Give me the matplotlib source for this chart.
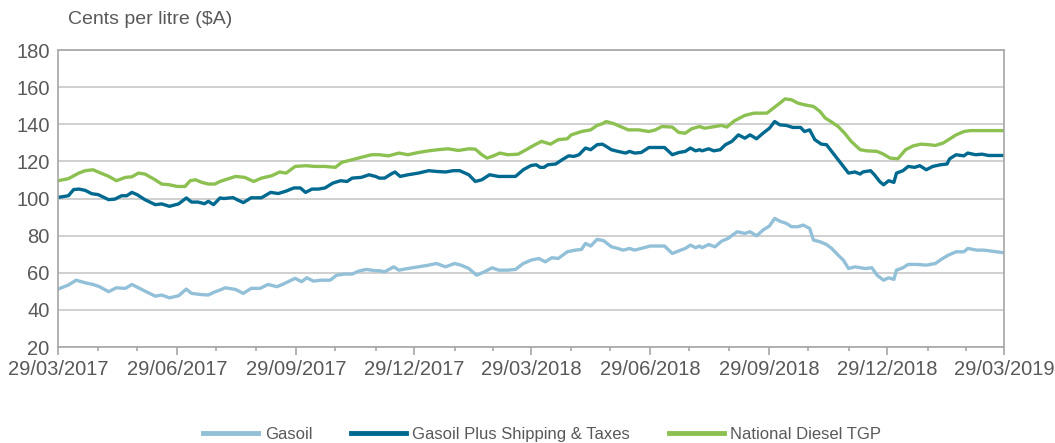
import pandas as pd
import matplotlib
matplotlib.use('Agg')
import matplotlib.pyplot as plt
import matplotlib.dates as mdates

# 数据：距 2017-03-29 的天数 与 对应价格（澳分/升）
start_date = '2017-03-29'

gasoil_days = [0, 8, 14, 21, 27, 32, 39, 45, 52, 57, 62, 68, 75, 80, 86, 93, 99, 103, 110, 116, 120, 125,
               129, 137, 143, 149, 156, 162, 169, 175, 183, 188, 192, 197, 203, 210, 215, 221, 227, 232, 238, 245, 248,
               252, 259, 263, 270, 278, 286, 292, 299, 306, 311, 317, 323, 329, 335, 340, 347, 353, 359, 365, 371,
               376, 381, 386, 393, 399, 404, 407, 411, 416, 421, 427, 432, 436, 441, 445, 450, 457, 463, 468, 474,
               479, 484, 488, 492, 495,
               497, 502, 507, 512, 517, 524, 530, 534, 539, 544, 549, 553, 557, 562, 566, 571, 575, 580, 583, 588,
               593, 597, 602, 606, 610, 615, 619,
               623, 628, 632, 637, 641, 645, 647, 652, 656, 663, 670, 677, 682, 687, 693, 699, 702, 709, 714, 719,
               724, 730]
gasoil = [51.2, 53.4, 56, 54.6, 53.7, 52.5, 49.8, 51.9, 51.6, 53.7, 51.9, 49.8, 47.4, 48, 46.5, 47.6, 51.2, 48.9,
          48.3, 48, 49.4, 50.7,
          51.9, 51, 48.9, 51.6, 51.6, 53.7, 52.5, 54.3, 57, 55.2, 57.3, 55.5, 56, 56, 58.7, 59.3, 59.3, 60.9, 61.8,
          61.1, 61.1,
          60.5, 63.2, 61.4, 62.3, 63.2, 64.1, 65, 63.2, 65, 64.1, 62.3, 58.7, 60.5, 62.7, 61.4, 61.4, 61.8, 65,
          66.8, 67.7,
          65.9, 68.1, 67.7, 71.3, 72.2, 72.6, 75.8, 74.4, 78, 77.3, 74, 73.1, 72.2, 73.1, 72.2, 73.1, 74.4, 74.4,
          74.4, 70.4, 71.8, 73.1, 74.9, 73.5, 74.4,
          73.5, 75.2, 74, 77, 78.5, 82.1, 81.2, 82.1, 79.9, 83, 85.2, 89.3, 87.8, 86.6, 84.8, 84.8, 85.7, 83.9,
          77.6, 76.7, 75.2, 73.1, 69.5, 66.8, 62.3, 63.2, 62.7,
          62.3, 62.7, 58.7, 56, 57.3, 56.4, 61.4, 62.7, 64.5, 64.5, 64.1, 65, 67.4, 69.5, 71.3, 71.3, 73.1, 72.2,
          72.2, 71.8, 71.3, 70.8]

shipping_days = [0, 8, 12, 16, 21, 26, 31, 39, 44, 49, 53, 57, 61, 67, 75, 80, 86, 93, 99, 103, 108, 113, 116, 120, 125,
                 128, 135, 139, 143, 149, 157, 164, 170, 176, 182, 187, 191, 196, 201, 206, 212, 218, 223, 227, 234,
                 240, 245, 248,
                 252, 257, 260, 264, 270, 278, 286, 292, 299, 305, 310, 317, 322, 327, 333, 340, 347, 353, 359, 365,
                 369, 372,
                 375, 378, 384, 389, 394, 398, 402, 407, 411, 416, 420, 423, 427, 432, 438, 441, 445, 450, 456, 462,
                 468, 474, 479, 484, 488, 492, 495,
                 497, 502, 506, 511, 515, 520, 525, 530, 534, 539, 544, 549, 553, 557, 562, 567, 573, 576, 580, 584,
                 589, 593, 597, 602, 606, 610, 615, 619,
                 621, 627, 630, 634, 637, 641, 645, 647, 652, 656, 661, 665, 670, 675, 681, 686, 688, 693, 699, 702,
                 708, 713, 718, 723, 730]
shipping = [100.6, 101.5, 104.8, 105.1, 104.4, 102.6, 102.1, 99.4, 99.7, 101.5, 101.5, 103.3, 102.1, 99.4, 96.7,
            97.1, 95.8, 97.1, 100.3, 98.1, 98.1, 97.2, 98.5, 96.7, 100.3,
            100, 100.5, 99.1, 97.8, 100.4, 100.4, 103.3, 102.7, 104, 105.7, 105.7, 103.3, 105.1, 105.1, 105.7,
            108.3, 109.6, 109.2, 111, 111.4, 112.8, 111.9, 111,
            111, 113.2, 114.3, 111.9, 112.8, 113.7, 115, 114.6, 114.3, 115, 115, 112.8, 109.2, 110.1, 112.8, 111.9,
            111.9, 111.9, 115.5, 117.8, 118.2, 116.8,
            116.8, 118.2, 118.6, 120.9, 123, 122.7, 123.6, 127.2, 126.3, 129, 129.3, 128.1, 126.3, 125.4, 124.5,
            125.4, 124.5, 124.8, 127.5, 127.5, 127.5, 123.6, 124.8, 125.4, 127.2, 125.7, 126.3,
            125.7, 126.8, 125.7, 126.3, 129, 130.8, 134.3, 132.5, 134.3, 132.2, 135.2, 137.9, 141.5, 139.7, 139.4,
            138.3, 138.3, 136.1, 137, 131.7, 129.3, 129, 125.4, 120.9, 117.3, 113.7, 114.3, 113.2,
            114.3, 115, 112.8, 109.2, 107.4, 109.6, 108.7, 113.7, 115, 117.3, 116.8, 117.7, 115.5, 117.3, 118.2,
            118.6, 121.4, 123.6, 123, 124.5, 123.6, 123.9, 123.2, 123.2, 123.2]

tgp_days = [0, 8, 16, 21, 27, 31, 39, 45, 52, 57, 62, 67, 74, 80, 86, 92, 98, 102, 106, 111, 116, 121, 125,
            129, 137, 144, 151, 157, 165, 171, 176, 183, 191, 198, 206, 214, 219, 227, 234, 242, 248,
            255, 263, 270, 278, 286, 293, 301, 309, 317, 322, 327, 331, 336, 341, 347, 355, 362, 367, 372,
            373, 380, 386, 393, 396, 404, 411, 416, 420, 423, 429, 434, 440, 448, 456, 461, 466, 474, 479, 484,
            489, 495,
            499, 507, 512, 516, 522, 530, 537, 543, 547, 552, 557, 561, 566, 571, 576, 583, 588, 592, 597, 602,
            607, 612, 619,
            624, 632, 637, 642, 648, 654, 660, 666, 672, 677, 683, 688, 693, 699, 704, 711, 719, 730]
tgp = [109.6, 110.7, 113.7, 115, 115.5, 114.3, 112, 109.6, 111.4, 111.7, 113.7, 113.2, 110.5, 107.8, 107.4, 106.5,
       106.5, 109.6, 110.1, 108.7, 107.8, 107.8, 109.2,
       110.1, 111.9, 111.4, 109.2, 111, 112.3, 114.3, 113.7, 117.3, 117.7, 117.3, 117.3, 116.8, 119.5, 120.9,
       122.2, 123.6, 123.6,
       123, 124.5, 123.6, 124.8, 125.7, 126.3, 126.8, 125.9, 126.8, 126.6, 123.6, 121.8, 123, 124.5, 123.6, 123.9,
       126.6, 128.6, 130.4,
       130.8, 129.3, 131.7, 132.2, 134.3, 136.1, 137, 139.4, 140.3, 141.5, 140.3, 138.8, 137, 137, 136.1, 137,
       138.8, 138.5, 135.6, 135.2, 137.6, 138.8,
       137.9, 138.8, 139.4, 138.5, 141.9, 144.8, 146, 146, 146, 148.7, 151.4, 153.7, 153.2, 151.4, 150.5, 149.6,
       146.9, 143.4, 141.2, 138.8, 135.2, 130.8, 126.3,
       125.7, 125.4, 123.9, 121.8, 121.4, 126.3, 128.4, 129.3, 129, 128.6, 129.9, 132.1, 134.3, 136.1, 136.6,
       136.6, 136.6, 136.6]

series_labels = ['Gasoil', 'Gasoil Plus Shipping & Taxes', 'National Diesel TGP']
series_colors = ['#92C0D8', '#00698F', '#8CC152']


def to_dates(days):
    return pd.Timestamp(start_date) + pd.to_timedelta(days, unit='D')


plt.rcParams['font.family'] = ['Liberation Sans', 'DejaVu Sans']

fig = plt.figure(figsize=(10.55, 4.43), dpi=100)
ax = fig.add_axes([0.055, 0.2167, 0.8967, 0.6703])

for days, vals, lab, col in zip([gasoil_days, shipping_days, tgp_days],
                                [gasoil, shipping, tgp], series_labels, series_colors):
    ax.plot(to_dates(days), vals, color=col, lw=2.4, label=lab, solid_joinstyle='round')

ax.set_ylim(20, 180)
ax.set_yticks(range(20, 181, 20))
ax.set_xlim(pd.Timestamp('2017-03-29'), pd.Timestamp('2019-03-29'))

# 主刻度：每季度 29 日；次刻度：每月（二月取 28 日）
months = pd.date_range('2017-03-01', '2019-03-01', freq='MS')
major = [m + pd.Timedelta(days=28) for m in months if m.month in (3, 6, 9, 12)]
minor = [m + pd.Timedelta(days=27 if m.month == 2 else 28) for m in months]
ax.set_xticks(major)
ax.set_xticks(minor, minor=True)
ax.xaxis.set_major_formatter(mdates.DateFormatter('%d/%m/%Y'))

ax.grid(axis='y', color='#C8C8C8', lw=1.2)
ax.set_axisbelow(True)
for s in ax.spines.values():
    s.set_color('#A6A6A6')
    s.set_linewidth(1.2)
ax.tick_params(axis='x', which='major', length=6, width=1.2, color='#A6A6A6', labelsize=14.5,
               labelcolor='#595959', pad=3)
ax.tick_params(axis='x', which='minor', length=3, width=1.2, color='#A6A6A6')
ax.tick_params(axis='y', length=0, labelsize=14.5, labelcolor='#595959', pad=6)

fig.text(68 / 1055, 1 - 20 / 443, 'Cents per litre ($A)', fontsize=14, color='#595959', va='center')

leg = fig.legend(loc='center', bbox_to_anchor=(0.514, 0.02), ncol=3, frameon=False, fontsize=12,
                 handlelength=3.3, columnspacing=2.3, handletextpad=0.4)
for t in leg.get_texts():
    t.set_color('#595959')
for h in leg.get_lines():
    h.set_linewidth(3.5)

fig.savefig('out.png', dpi=100)
